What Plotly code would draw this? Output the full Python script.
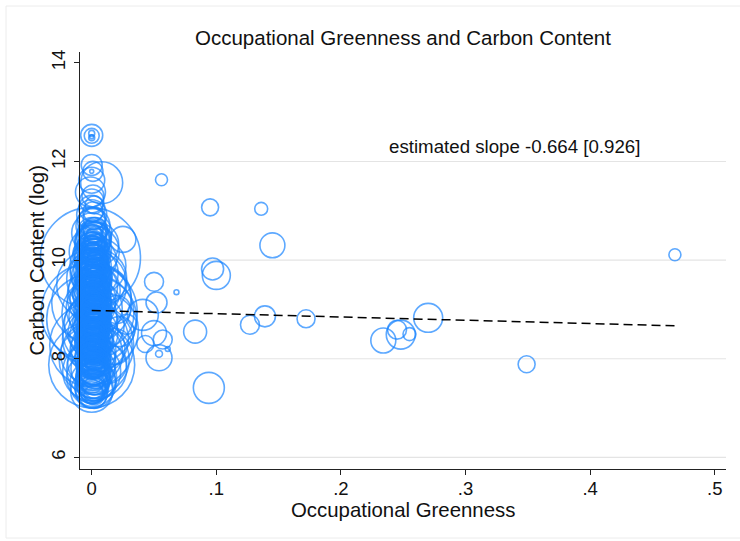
import plotly.graph_objects as go

# --- Occupations with (near) zero greenness: large, dense group ---------------
zero_green = [
    0.000, 0.000, 0.000, 0.000, 0.000, 0.000, 0.001, 0.000, 0.008, 0.000,
    -0.001, 0.001, 0.000, 0.002, 0.000, 0.001, 0.000, 0.002, 0.000, 0.001,
    0.003, 0.000, 0.002, 0.001, 0.004, 0.000, 0.002, 0.000, -0.001, 0.003,
    0.001, 0.005, 0.000, 0.002, 0.000, 0.004, 0.001, 0.000, 0.003, 0.002,
    0.000, 0.006, 0.001, 0.000, 0.003, 0.002, -0.002, 0.000, 0.005, 0.001,
    0.000, 0.004, 0.002, 0.000, 0.007, 0.001, 0.000, 0.003, 0.002, 0.000,
    0.005, 0.001, 0.000, 0.003, 0.002, 0.000, 0.000, 0.004, 0.001, 0.000,
    0.002, 0.000, 0.003, 0.001, 0.000, 0.002, 0.000, 0.001, 0.000,
]
zero_carbon = [
    12.53, 12.52, 12.57, 12.48, 12.50, 11.93, 11.80, 11.80, 11.57, 11.62,
    11.38, 11.30, 11.20, 11.12, 11.05, 10.98, 10.92, 10.85, 10.78, 10.70,
    10.62, 10.55, 10.48, 10.40, 10.32, 10.25, 10.18, 10.10, 10.05, 10.00,
    9.95, 9.88, 9.80, 9.74, 9.68, 9.62, 9.56, 9.50, 9.45, 9.38,
    9.32, 9.26, 9.20, 9.14, 9.08, 9.02, 8.95, 8.97, 8.92, 8.86,
    8.80, 8.75, 8.70, 8.64, 8.58, 8.52, 8.46, 8.40, 8.34, 8.28,
    8.22, 8.16, 8.10, 8.04, 7.98, 7.92, 7.88, 7.80, 7.80, 7.74,
    7.68, 7.62, 7.56, 7.50, 7.44, 7.38, 7.32, 7.28, 7.34,
]
zero_emp = [
    121, 56, 9, 9, 4, 110, 100, 4, 441, 169,
    225, 121, 144, 81, 169, 100, 225, 121, 196, 289,
    144, 400, 225, 324, 484, 225, 625, 361, 2500, 441,
    225, 784, 324, 576, 400, 900, 289, 1225, 484, 676,
    361, 1024, 529, 1600, 400, 784, 2304, 289, 1296, 576,
    2025, 441, 900, 324, 1444, 625, 484, 1089, 361, 1764,
    729, 529, 961, 400, 1225, 576, 1849, 900, 484, 841,
    324, 625, 400, 529, 289, 361, 256, 196, 441,
]

# --- Smaller zero-greenness occupations filling the core of the group ---------
core_green = [
    0.001, 0.000, 0.002, 0.000, 0.003, 0.001, 0.000, 0.002, 0.001, 0.000,
    0.002, 0.001, 0.000, 0.003, 0.001, 0.000, 0.002, 0.001, 0.000, 0.003,
    0.001, 0.000, 0.002, 0.001, 0.000, 0.002, 0.003, 0.000, 0.001, 0.002,
    0.000, 0.001, 0.003, 0.000, 0.002, 0.001, 0.000, 0.002, 0.001, 0.003,
    0.000, 0.001, 0.002, 0.000, 0.001, 0.003, 0.000, 0.002, 0.001, 0.000,
    0.002, 0.001, 0.000, 0.003, 0.001, 0.000, 0.002, 0.001, 0.000, 0.002,
    0.001, 0.003, 0.000, 0.001, 0.002, 0.000, 0.001, 0.003, 0.000, 0.002,
    0.001, 0.000, 0.002, 0.001, 0.003, 0.000, 0.001, 0.002, 0.000, 0.001,
    0.003, 0.000, 0.002, 0.001, 0.000, 0.002, 0.001, 0.000, 0.001, 0.002,
]
core_carbon = [
    10.62, 10.58, 10.51, 10.47, 10.44, 10.39, 10.35, 10.31, 10.27, 10.22,
    10.19, 10.15, 10.12, 10.07, 10.03, 9.99, 9.96, 9.93, 9.90, 9.86,
    9.83, 9.79, 9.77, 9.73, 9.70, 9.66, 9.64, 9.60, 9.57, 9.54,
    9.51, 9.48, 9.46, 9.42, 9.40, 9.36, 9.34, 9.30, 9.28, 9.25,
    9.22, 9.19, 9.17, 9.13, 9.11, 9.08, 9.05, 9.03, 9.00, 8.98,
    8.95, 8.93, 8.90, 8.88, 8.85, 8.83, 8.80, 8.77, 8.75, 8.72,
    8.70, 8.67, 8.65, 8.62, 8.59, 8.57, 8.54, 8.51, 8.49, 8.46,
    8.43, 8.41, 8.38, 8.35, 8.32, 8.30, 8.27, 8.24, 8.21, 8.18,
    8.15, 8.12, 8.08, 8.05, 8.01, 7.97, 7.93, 7.88, 7.83, 7.78,
]
core_emp = [
    100, 196, 64, 144, 256, 81, 169, 121, 225, 49,
    144, 100, 289, 64, 196, 121, 81, 256, 169, 100,
    225, 144, 64, 196, 100, 324, 121, 81, 169, 144,
    256, 100, 196, 64, 225, 121, 289, 144, 81, 169,
    100, 196, 256, 121, 64, 225, 144, 324, 100, 169,
    81, 196, 121, 256, 144, 64, 225, 100, 289, 169,
    121, 196, 81, 256, 144, 100, 225, 169, 64, 196,
    121, 289, 144, 81, 225, 100, 169, 256, 121, 196,
    144, 64, 225, 100, 169, 256, 121, 196, 144, 225,
]

core2_green = [
    0.002, 0.001, 0.000, 0.003, 0.001, 0.002, 0.000, 0.001, 0.003, 0.002,
    0.000, 0.001, 0.002, 0.004, 0.000, 0.001, 0.003, 0.002, 0.000, 0.001,
    0.002, 0.000, 0.003, 0.001, 0.002, 0.000, 0.001, 0.004, 0.002, 0.000,
    0.001, 0.003, 0.000, 0.002, 0.001, 0.000, 0.003, 0.002, 0.001, 0.000,
    0.002, 0.004, 0.001, 0.000, 0.003, 0.002, 0.000, 0.001, 0.002, 0.003,
    0.000, 0.001, 0.002, 0.000, 0.004, 0.001, 0.002, 0.000, 0.003, 0.001,
    0.000, 0.002, 0.001, 0.003, 0.000, 0.002, 0.001, 0.000, 0.004, 0.002,
    0.001, 0.000, 0.003, 0.002, 0.000, 0.001, 0.002, 0.003, 0.000, 0.001,
    0.002, 0.000, 0.001, 0.003, 0.002, 0.000, 0.001, 0.002, 0.000, 0.003,
    0.001, 0.002, 0.000, 0.001, 0.003, 0.000, 0.002, 0.001, 0.000, 0.002,
]
core2_carbon = [
    10.60, 10.54, 10.49, 10.42, 10.37, 10.33, 10.29, 10.24, 10.20, 10.17,
    10.13, 10.09, 10.05, 10.01, 9.97, 9.94, 9.91, 9.88, 9.84, 9.81,
    9.78, 9.75, 9.71, 9.68, 9.65, 9.62, 9.58, 9.55, 9.52, 9.49,
    9.47, 9.44, 9.41, 9.38, 9.35, 9.32, 9.29, 9.26, 9.23, 9.21,
    9.18, 9.15, 9.12, 9.09, 9.06, 9.04, 9.01, 8.99, 8.96, 8.94,
    8.91, 8.89, 8.86, 8.84, 8.81, 8.78, 8.76, 8.73, 8.71, 8.68,
    8.66, 8.63, 8.60, 8.58, 8.55, 8.52, 8.50, 8.47, 8.44, 8.42,
    8.39, 8.36, 8.33, 8.31, 8.28, 8.25, 8.22, 8.19, 8.16, 8.13,
    8.10, 8.07, 8.03, 7.99, 7.95, 7.91, 7.86, 7.81, 7.76, 7.70,
    7.65, 7.60, 7.55, 7.50, 7.46, 7.42, 7.38, 7.35, 7.31, 7.27,
]
core2_emp = [
    169, 81, 225, 121, 289, 64, 196, 144, 256, 100,
    324, 121, 169, 81, 225, 196, 100, 289, 144, 64,
    256, 169, 121, 324, 100, 196, 81, 225, 144, 289,
    121, 256, 169, 100, 196, 361, 144, 81, 225, 169,
    289, 121, 196, 100, 256, 144, 324, 169, 81, 225,
    196, 121, 289, 144, 100, 256, 169, 361, 121, 196,
    225, 81, 144, 289, 169, 100, 256, 196, 121, 324,
    144, 225, 100, 169, 289, 121, 196, 256, 81, 144,
    225, 169, 324, 121, 196, 256, 144, 289, 169, 225,
    196, 256, 144, 225, 169, 196, 144, 169, 121, 100,
]

core3_green = [
    0.001, 0.002, 0.000, 0.001, 0.003, 0.002, 0.001, 0.000, 0.002, 0.001,
    0.003, 0.000, 0.002, 0.001, 0.000, 0.002, 0.003, 0.001, 0.000, 0.002,
    0.001, 0.003, 0.000, 0.002, 0.001, 0.000, 0.002, 0.001, 0.003, 0.000,
    0.002, 0.001, 0.000, 0.003, 0.002, 0.001, 0.000, 0.002, 0.001, 0.003,
    0.000, 0.002, 0.001, 0.000, 0.003, 0.001, 0.002, 0.000, 0.001, 0.002,
    0.003, 0.001, 0.000, 0.002, 0.001, 0.000, 0.002, 0.001, 0.003, 0.000,
]
core3_carbon = [
    10.21, 10.16, 10.11, 10.04, 9.98, 9.92, 9.87, 9.82, 9.76, 9.72,
    9.67, 9.63, 9.59, 9.53, 9.50, 9.45, 9.39, 9.37, 9.31, 9.27,
    9.24, 9.20, 9.16, 9.10, 9.07, 9.02, 8.97, 8.92, 8.87, 8.82,
    8.79, 8.74, 8.69, 8.64, 8.61, 8.56, 8.53, 8.48, 8.45, 8.40,
    8.37, 8.34, 8.29, 8.26, 8.23, 8.20, 8.14, 8.11, 8.06, 8.02,
    7.98, 7.94, 7.90, 7.85, 7.80, 7.75, 7.68, 7.62, 7.57, 7.52,
]
core3_emp = [
    121, 196, 144, 225, 100, 169, 256, 121, 196, 144,
    225, 169, 100, 256, 144, 196, 121, 225, 169, 144,
    256, 100, 196, 169, 225, 121, 144, 256, 196, 100,
    169, 225, 144, 121, 256, 196, 169, 100, 225, 144,
    196, 121, 256, 169, 144, 225, 100, 196, 169, 256,
    144, 225, 196, 169, 256, 225, 196, 289, 225, 256,
]

# --- Occupations with positive greenness ---------------------------------------
green_share = [
    0.056, 0.095, 0.136, 0.145, 0.097, 0.100, 0.050, 0.068, 0.052, 0.041,
    0.139, 0.127, 0.172, 0.083, 0.050, 0.057, 0.043, 0.054, 0.054, 0.061,
    0.094, 0.025, 0.234, 0.248, 0.245, 0.255, 0.270, 0.349, 0.468,
    0.022, 0.018, 0.020, 0.015, 0.012, 0.028,
]
green_carbon = [
    11.63, 11.07, 11.04, 10.30, 9.82, 9.69, 9.56, 9.35, 9.14, 8.89,
    8.86, 8.69, 8.81, 8.55, 8.52, 8.39, 8.30, 8.02, 8.10, 8.20,
    7.41, 10.42, 8.37, 8.49, 8.59, 8.50, 8.83, 7.89, 10.11,
    8.55, 8.25, 9.00, 9.50, 7.90, 8.70,
]
green_emp = [
    36, 72, 42, 156, 121, 196, 90, 6, 110, 240,
    110, 90, 81, 132, 156, 90, 72, 169, 12, 6,
    240, 169, 156, 210, 90, 42, 210, 72, 36,
    225, 324, 196, 225, 400, 100,
]

# Weighted linear fit reported on the chart
fit_intercept = 8.98
fit_slope = -0.664
fit_slope_se = 0.926
fit_x_range = [0.0, 0.468]

x_ticks = [0, 0.1, 0.2, 0.3, 0.4, 0.5]
x_tick_labels = ["0", ".1", ".2", ".3", ".4", ".5"]
y_ticks = [6, 8, 10, 12, 14]
y_grid = [6, 8, 10, 12]

greenness = zero_green + core_green + core2_green + core3_green + green_share
carbon = zero_carbon + core_carbon + core2_carbon + core3_carbon + green_carbon
employment = zero_emp + core_emp + core2_emp + core3_emp + green_emp

# bubble area proportional to employment
diam = [2 * e ** 0.5 for e in employment]

BLUE = "rgb(26,133,255)"
FONT = "Liberation Sans, Arial, sans-serif"

fig = go.Figure()

fig.add_trace(go.Scatter(
    x=greenness, y=carbon, mode="markers", cliponaxis=False,
    marker=dict(size=diam, sizemode="diameter", color="rgba(0,0,0,0)",
                line=dict(color=BLUE, width=1.6)),
    showlegend=False, hoverinfo="skip",
))

fit_y = [fit_intercept + fit_slope * v for v in fit_x_range]
fig.add_trace(go.Scatter(
    x=fit_x_range, y=fit_y, mode="lines",
    line=dict(color="black", width=1.5, dash="9px,5px"),
    showlegend=False, hoverinfo="skip",
))

# plot region in pixels: x 80..726, y 52..469
L, R, T, B = 80, 726, 52, 469
W, H = 740, 541


def px(xp):
    return (xp - L) / (R - L)


def py(yp):
    return (B - yp) / (B - T)


shapes = [
    dict(type="rect", xref="paper", yref="paper",
         x0=px(6), x1=px(760), y0=py(538), y1=py(6),
         line=dict(color="#ececec", width=1), fillcolor="rgba(0,0,0,0)",
         layer="below"),
]
for g in y_grid:
    shapes.append(dict(type="line", xref="paper", yref="y", x0=0, x1=1,
                       y0=g, y1=g, line=dict(color="#e4e4e4", width=1.2),
                       layer="below"))

annotations = [
    dict(text="Occupational Greenness and Carbon Content", xref="paper",
         yref="paper", x=0.5, y=py(37), xanchor="center", yanchor="middle",
         showarrow=False, font=dict(size=20.5, color="#111", family=FONT)),
    dict(text="Occupational Greenness", xref="paper", yref="paper",
         x=0.5, y=py(510), xanchor="center", yanchor="middle",
         showarrow=False, font=dict(size=20.4, color="#111", family=FONT)),
    dict(text="Carbon Content (log)", xref="paper", yref="paper",
         x=px(36), y=0.5, xanchor="center", yanchor="middle", textangle=-90,
         showarrow=False, font=dict(size=20.4, color="#111", family=FONT)),
    dict(text=f"estimated slope {fit_slope:.3f} [{fit_slope_se:.3f}]",
         xref="x", yref="y", x=0.339, y=12.30, xanchor="center",
         yanchor="middle", showarrow=False,
         font=dict(size=18.7, color="#111", family=FONT)),
]

fig.update_layout(
    width=W, height=H,
    margin=dict(l=L, r=W - R, t=T, b=H - B, autoexpand=False),
    paper_bgcolor="white", plot_bgcolor="white",
    font=dict(family=FONT, color="#111"),
    shapes=shapes, annotations=annotations,
    xaxis=dict(range=[-0.0094, 0.509], tickvals=x_ticks,
               ticktext=x_tick_labels, showgrid=False, zeroline=False,
               showline=True, linecolor="#222", linewidth=1.2,
               ticks="outside", ticklen=5, tickcolor="#222",
               ticklabelstandoff=-2,
               tickfont=dict(size=18.5, color="#111"), automargin=False),
    yaxis=dict(range=[5.765, 14.22], tickvals=y_ticks, showgrid=False,
               zeroline=False, showline=True, linecolor="#222",
               linewidth=1.2, ticks="outside", ticklen=5, tickcolor="#222",
               ticklabelstandoff=2,
               tickangle=-90, tickfont=dict(size=18.5, color="#111"),
               automargin=False),
)

fig.write_html("out.html")
